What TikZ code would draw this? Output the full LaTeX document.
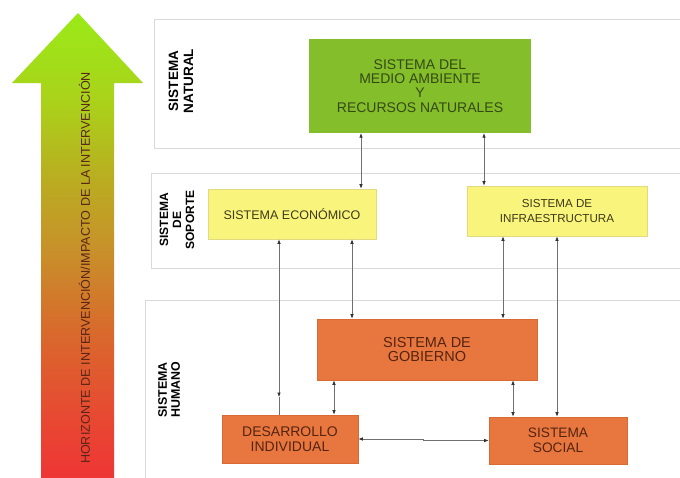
\documentclass[tikz,border=0pt]{standalone}
\usepackage{fontspec}
\setmainfont{Liberation Sans}
\usetikzlibrary{arrows.meta,calc}
\definecolor{gfill}{HTML}{84BE2A}
\definecolor{gtext}{HTML}{344A14}
\definecolor{yfill}{HTML}{F9F47C}
\definecolor{yline}{HTML}{E2DA80}
\definecolor{ytext}{HTML}{3E3A18}
\definecolor{ofill}{HTML}{E8773F}
\definecolor{oline}{HTML}{D86A36}
\definecolor{otext}{HTML}{552410}
\definecolor{panelline}{HTML}{DADADA}
\definecolor{connline}{HTML}{707070}
\definecolor{tipcol}{HTML}{303030}
\definecolor{alime}{HTML}{9AEA18}
\definecolor{ayg}{HTML}{AAD21A}
\definecolor{aolive}{HTML}{B8B020}
\definecolor{abrown}{HTML}{C8902A}
\definecolor{aorange}{HTML}{D86A2C}
\definecolor{ared1}{HTML}{E84832}
\definecolor{ared}{HTML}{EE3535}
\definecolor{arrtext}{HTML}{5A2618}
\pgfdeclareverticalshading{bigarrowshade}{100bp}{color(0bp)=(ared); color(25bp)=(ared); color(31.5bp)=(ared1); color(41bp)=(aorange); color(49.5bp)=(abrown); color(58bp)=(aolive); color(65.5bp)=(ayg); color(75bp)=(alime); color(100bp)=(alime)}
\tikzset{
  panel/.style={draw=panelline, line width=0.7pt, fill=white},
  panellabel/.style={rotate=90, font=\bfseries, align=center, text=black, inner sep=0pt},
  greenbox/.style={fill=gfill, draw=none, text=gtext, align=center, inner sep=0pt},
  yellowbox/.style={fill=yfill, draw=yline, line width=0.6pt, text=ytext, align=center, inner sep=0pt},
  orangebox/.style={fill=ofill, draw=oline, line width=0.6pt, text=otext, align=center, inner sep=0pt},
  conn/.style={draw=connline, line width=0.6pt, {Latex[length=4.5pt,width=3.5pt,color=tipcol]}-{Latex[length=4.5pt,width=3.5pt,color=tipcol]}},
  plainconn/.style={draw=connline, line width=0.6pt}
}
\begin{document}
\begin{tikzpicture}[x=1pt,y=-1pt]
\useasboundingbox (0,0) rectangle (680,477);
\fill[white] (0,0) rectangle (680,477);

% big arrow
\shade[shading=bigarrowshade] (78,13) -- (143,83) -- (114,83) -- (114,480) -- (41,480) -- (41,83) -- (12,83) -- cycle;
\node[rotate=90, text=arrtext, font=\fontsize{12.6}{14}\selectfont, inner sep=0pt] (arrowtext) at (84.5,268) {HORIZONTE DE INTERVENCIÓN/IMPACTO DE LA INTERVENCIÓN};

% panels
\draw[panel] (154,19) rectangle (700,148);
\draw[panel] (151,173) rectangle (700,268);
\draw[panel] (145,300) rectangle (700,490);

\node[panellabel, font=\fontsize{13.5}{15}\selectfont\bfseries] (lnat) at (181,81) {SISTEMA\\NATURAL};
\node[panellabel, font=\fontsize{12}{13}\selectfont\bfseries] (lsop) at (177,220) {SISTEMA\\DE\\SOPORTE};
\node[panellabel, font=\fontsize{12.4}{13}\selectfont\bfseries] (lhum) at (169,390) {SISTEMA\\HUMANO};

% boxes
\node[greenbox, minimum width=222pt, minimum height=94pt, font=\fontsize{14}{14.2}\selectfont] (green) at (420,86) {SISTEMA DEL\\MEDIO AMBIENTE\\Y\\RECURSOS NATURALES};
\node[yellowbox, minimum width=168pt, minimum height=50pt, font=\fontsize{12.5}{14}\selectfont] (econ) at (292,214) {SISTEMA ECONÓMICO};
\node[yellowbox, minimum width=180pt, minimum height=50pt, font=\fontsize{11.6}{14.5}\selectfont] (infra) at (557,211) {SISTEMA DE\\INFRAESTRUCTURA};
\node[orangebox, minimum width=220pt, minimum height=61pt, font=\fontsize{14.5}{14.5}\selectfont] (gob) at (427,349.5) {SISTEMA DE\\GOBIERNO};
\node[orangebox, minimum width=136pt, minimum height=48pt, font=\fontsize{14}{14.5}\selectfont] (des) at (290,439) {DESARROLLO\\INDIVIDUAL};
\node[orangebox, minimum width=138pt, minimum height=47pt, font=\fontsize{13.7}{15}\selectfont] (soc) at (558,440.5) {SISTEMA\\SOCIAL};

% connectors
\draw[conn] (361,0 |- green.south) -- (361,0 |- econ.north);
\draw[conn] (484,0 |- green.south) -- (484,0 |- infra.north);
\coordinate (c3m) at (279,397);
\draw[conn] (279,0 |- econ.south) -- (c3m);
\draw[plainconn] (c3m) -- (279,0 |- des.north);
\draw[conn] (352,0 |- econ.south) -- (352,0 |- gob.north);
\draw[conn] (503,0 |- infra.south) -- (503,0 |- gob.north);
\draw[conn] (557,0 |- infra.south) -- (557,0 |- soc.north);
\draw[conn] (334,0 |- gob.south) -- (334,0 |- des.north);
\draw[conn] (513,0 |- gob.south) -- (513,0 |- soc.north);
\draw[conn] (des.east) -- (423,0 |- des.east) -- (423,0 |- soc.west) -- (soc.west);
\end{tikzpicture}
\end{document}
